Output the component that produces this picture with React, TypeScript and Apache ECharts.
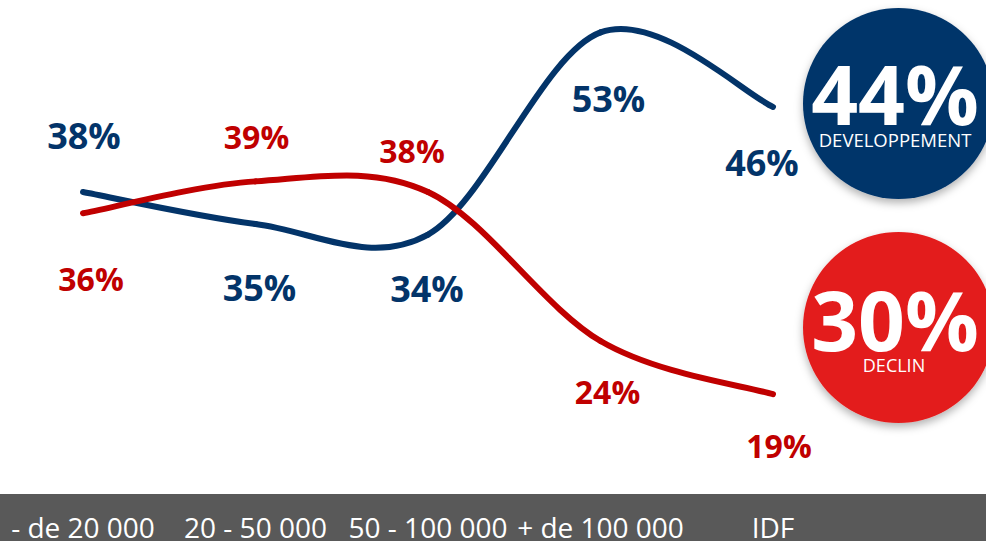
import React, { useEffect, useRef } from "react";
import * as echarts from "echarts";

const categories = ["- de 20 000", "20 - 50 000", "50 - 100 000", "+ de 100 000", "IDF"];
const developpement = [38, 35, 34, 53, 46];
const declin = [36, 39, 38, 24, 19];
const devLabelOffsets = [[1, -57], [4, 64], [-1, 54], [8, 66], [-11, 56]];
const decLabelOffsets = [[8, 65], [1, -45], [-16, -42], [7, 50], [6, 51]];
const totalDev = "44%";
const totalDevLabel = "DEVELOPPEMENT";
const totalDec = "30%";
const totalDecLabel = "DECLIN";

const BLUE = "#033469";
const RED = "#C00000";
const CIRCLE_BLUE = "#03356A";
const CIRCLE_RED = "#E31C1C";
const FONT = "'Open Sans', sans-serif";

// Smooth curve (Catmull-Rom, like a spreadsheet's smoothed line) drawn through the axis scales
function curveSeries(name: string, vals: number[], color: string) {
  return {
    name,
    type: "custom",
    data: vals.map((v, i) => [i, v]),
    silent: true,
    z: 3,
    renderItem: (params: any, api: any) => {
      const i = params.dataIndex;
      if (i >= vals.length - 1) return { type: "group", children: [] };
      const P = (k: number) => {
        const kk = Math.max(0, Math.min(vals.length - 1, k));
        return api.coord([kk, vals[kk]]);
      };
      const p0 = P(i - 1);
      const p1 = P(i);
      const p2 = P(i + 1);
      const p3 = P(i + 2);
      return {
        type: "bezierCurve",
        shape: {
          x1: p1[0],
          y1: p1[1],
          x2: p2[0],
          y2: p2[1],
          cpx1: p1[0] + (p2[0] - p0[0]) / 6,
          cpy1: p1[1] + (p2[1] - p0[1]) / 6,
          cpx2: p2[0] - (p3[0] - p1[0]) / 6,
          cpy2: p2[1] - (p3[1] - p1[1]) / 6,
        },
        style: { stroke: color, lineWidth: 6, fill: "none", lineCap: "round" },
      };
    },
  };
}

export default function App() {
  const ref = useRef<HTMLDivElement>(null);
  useEffect(() => {
    if (!ref.current) return;
    const chart = echarts.init(ref.current, undefined, { renderer: "svg" });
    const mk = (vals: number[], offs: number[][], color: string, size: number) =>
      vals.map((v, i) => ({
        value: v,
        label: { offset: offs[i], color, fontSize: size },
      }));
    const labelSeries = (name: string, vals: number[], offs: number[][], color: string, size: number) => ({
      name,
      type: "line",
      data: mk(vals, offs, color, size),
      symbol: "circle",
      symbolSize: 1,
      itemStyle: { color: "rgba(0,0,0,0)" },
      lineStyle: { opacity: 0, width: 0 },
      silent: true,
      z: 4,
      label: {
        show: true,
        position: "inside",
        formatter: "{c}%",
        fontFamily: FONT,
        fontWeight: "bold",
      },
    });
    chart.setOption({
      animation: false,
      backgroundColor: "#ffffff",
      grid: { left: 83, right: 213, top: 11.1, bottom: 48.4, containLabel: false },
      xAxis: {
        type: "category",
        data: categories,
        boundaryGap: false,
        axisLine: { show: false },
        axisTick: { show: false },
        splitLine: { show: false },
        axisLabel: {
          color: "#ffffff",
          fontFamily: FONT,
          fontSize: 28,
          lineHeight: 28,
          margin: 23,
          interval: 0,
        },
      },
      yAxis: { type: "value", min: 10, max: 55, show: false, splitLine: { show: false } },
      graphic: [
        { type: "rect", z: -10, shape: { x: 0, y: 494, width: 986, height: 47 }, style: { fill: "#595959" } },
        {
          type: "circle",
          shape: { cx: 898.5, cy: 103.5, r: 95.5 },
          style: { fill: CIRCLE_BLUE, shadowBlur: 8, shadowOffsetY: 4, shadowColor: "rgba(0,0,0,0.3)" },
        },
        {
          type: "circle",
          shape: { cx: 898.5, cy: 327.5, r: 95.5 },
          style: { fill: CIRCLE_RED, shadowBlur: 8, shadowOffsetY: 4, shadowColor: "rgba(0,0,0,0.3)" },
        },
        {
          type: "text",
          x: 895,
          y: 93,
          style: { text: totalDev, fill: "#fff", font: `bold 82px ${FONT}`, align: "center", verticalAlign: "middle" },
        },
        {
          type: "text",
          x: 895,
          y: 139,
          style: { text: totalDevLabel, fill: "#fff", font: `18.5px ${FONT}`, align: "center", verticalAlign: "middle" },
        },
        {
          type: "text",
          x: 895,
          y: 319,
          style: { text: totalDec, fill: "#fff", font: `bold 82px ${FONT}`, align: "center", verticalAlign: "middle" },
        },
        {
          type: "text",
          x: 894,
          y: 365,
          style: { text: totalDecLabel, fill: "#fff", font: `18px ${FONT}`, align: "center", verticalAlign: "middle" },
        },
      ],
      series: [
        curveSeries("Développement (courbe)", developpement, BLUE),
        curveSeries("Déclin (courbe)", declin, RED),
        labelSeries("Développement", developpement, devLabelOffsets, BLUE, 36),
        labelSeries("Déclin", declin, decLabelOffsets, RED, 32),
      ],
    });
    return () => chart.dispose();
  }, []);
  return <div ref={ref} style={{ position: "fixed", left: 0, top: 0, width: 986, height: 541 }} />;
}
